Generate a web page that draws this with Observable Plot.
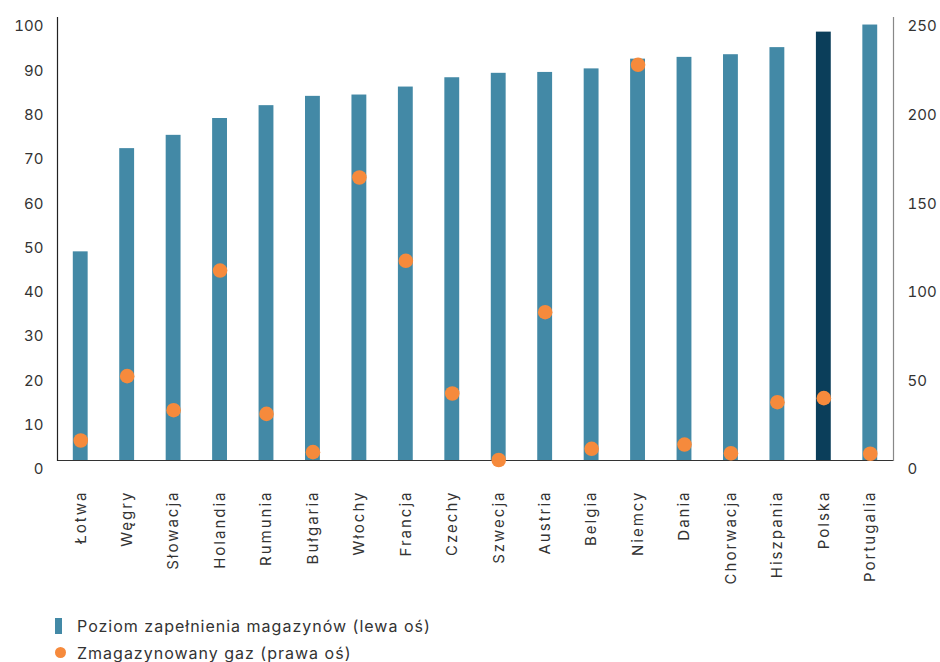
<!DOCTYPE html>
<html>
<head>
<meta charset="utf-8">
<script src="https://cdn.jsdelivr.net/npm/d3@7"></script>
<script src="https://cdn.jsdelivr.net/npm/@observablehq/plot@0.6"></script>
<style>
  body { margin: 0; background: #fff; font-family: Inter, "Noto Sans", sans-serif; }
  #legend { margin-left: 55px; margin-top: 12px; }
  .item { display: flex; align-items: center; height: 27px; font-size: 16px; letter-spacing: 1px; color: #333; }
  .sw-bar { width: 7px; height: 16px; background: #4389a6; margin-right: 15px; }
  .sw-dot { width: 11px; height: 11px; border-radius: 50%; background: #f68a3c; margin-right: 11px; }
  g[aria-label="x-axis tick label"] text { letter-spacing: 2px; }
</style>
</head>
<body>
<div id="chart"></div>
<div id="legend">
  <div class="item"><span class="sw-bar"></span>Poziom zapełnienia magazynów (lewa oś)</div>
  <div class="item"><span class="sw-dot"></span>Zmagazynowany gaz (prawa oś)</div>
</div>
<script>
const countries = ["Łotwa","Węgry","Słowacja","Holandia","Rumunia","Bułgaria","Włochy","Francja","Czechy","Szwecja","Austria","Belgia","Niemcy","Dania","Chorwacja","Hiszpania","Polska","Portugalia"];
const fillLevel = [47.1,70.4,73.4,77.2,80.1,82.2,82.5,84.3,86.4,87.4,87.6,88.4,90.6,91.0,91.6,93.2,96.7,98.3];
const storedGas = [11.3,47.6,28.4,107.2,26.3,4.7,159.7,112.7,37.8,0.3,83.7,6.6,223.3,9.0,4.1,32.9,35.2,3.8];
const leftTicks = [0,10,20,30,40,50,60,70,80,90,100];
const rightTicks = [0,50,100,150,200,250];
const highlight = "Polska";

const leftMax = 100, rightMax = 250;
const ratio = rightMax / leftMax;

const data = countries.map((c, i) => ({country: c, fill: fillLevel[i], gas: storedGas[i]}));

const chart = Plot.plot({
  width: 940,
  height: 600,
  marginLeft: 57,
  marginRight: 47,
  marginTop: 17,
  marginBottom: 140,
  style: {fontFamily: 'Inter, "Noto Sans", sans-serif', fontSize: "15px", color: "#333", background: "#fff"},
  x: {domain: countries, paddingInner: 0.68, paddingOuter: 0.34, round: false, axis: null},
  y: {domain: [0, leftMax], axis: null},
  marks: [
    Plot.barY(data, {x: "country", y: "fill", fill: d => d.country === highlight ? "#0b3e5a" : "#4389a6"}),
    Plot.ruleY([0], {stroke: "#333", strokeWidth: 1.2}),
    Plot.frame({anchor: "left", stroke: "#222", strokeWidth: 1.2}),
    Plot.frame({anchor: "right", stroke: "#888", strokeWidth: 1.2}),
    Plot.dot(data, {x: "country", y: d => d.gas / ratio, r: 7.3, fill: "#f68a3c", stroke: "none"}),
    Plot.axisX({tickSize: 0, tickRotate: -90, tickPadding: 30, fontSize: 15, label: null, fill: "#333"}),
    Plot.axisY(leftTicks, {anchor: "left", tickSize: 0, tickPadding: 14, dy: 9, fontSize: 15, label: null, fill: "#333"}),
    Plot.axisY(rightTicks.map(v => v / ratio), {anchor: "right", tickSize: 0, tickPadding: 14, dy: 9, fontSize: 15, label: null, fill: "#333",
      tickFormat: d => String(Math.round(d * ratio))})
  ]
});
document.getElementById("chart").appendChild(chart);
</script>
</body>
</html>
